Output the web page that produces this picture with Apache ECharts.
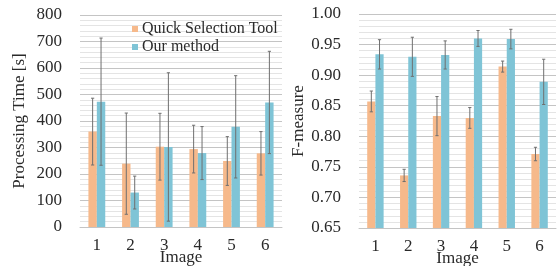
<!DOCTYPE html>
<html>
<head>
<meta charset="utf-8">
<script src="https://cdn.jsdelivr.net/npm/echarts@6/dist/echarts.min.js"></script>
<style>html,body{margin:0;padding:0;background:#fff}#c{width:558px;height:266px}</style>
</head>
<body>
<div id="c"></div>
<script>
var categories = ['1', '2', '3', '4', '5', '6'];
var seriesNames = ['Quick Selection Tool', 'Our method'];
// Processing time [s]
var qstTime = [360, 239, 303, 294, 249, 278];
var qstTimeErr = [126, 191, 126, 90, 92, 82];
var ourTime = [473, 130, 302, 279, 378, 470];
var ourTimeErr = [240, 62, 280, 100, 193, 193];
// F-measure
var qstF = [0.857, 0.736, 0.833, 0.830, 0.914, 0.771];
var qstFErr = [0.017, 0.010, 0.032, 0.017, 0.009, 0.011];
var ourF = [0.934, 0.930, 0.933, 0.960, 0.959, 0.889];
var ourFErr = [0.024, 0.032, 0.023, 0.013, 0.016, 0.037];

var orange = '#F6B98B';
var blue = '#7FC4D6';
var font = 'Liberation Serif';
var textColor = '#2a2a2a';

function errData(mean, err) {
  return mean.map(function (m, i) { return [i, m - err[i], m + err[i]]; });
}
function errSeries(name, data, xi, yi, side) {
  return {
    type: 'custom', name: name, xAxisIndex: xi, yAxisIndex: yi, z: 5,
    data: data,
    renderItem: function (params, api) {
      var band = api.size([1, 0])[0];
      var off = side * band * 0.125;
      var lo = api.coord([api.value(0), api.value(1)]);
      var hi = api.coord([api.value(0), api.value(2)]);
      var x = lo[0] + off;
      var cw = 1.6;
      var st = { stroke: '#6f6f6f', lineWidth: 1 };
      return {
        type: 'group',
        children: [
          { type: 'line', shape: { x1: x, y1: lo[1], x2: x, y2: hi[1] }, style: st },
          { type: 'line', shape: { x1: x - cw, y1: lo[1], x2: x + cw, y2: lo[1] }, style: st },
          { type: 'line', shape: { x1: x - cw, y1: hi[1], x2: x + cw, y2: hi[1] }, style: st }
        ]
      };
    },
    silent: true
  };
}
function xAxis(gi) {
  return {
    type: 'category', gridIndex: gi, data: categories,
    axisLine: { show: true, lineStyle: { color: '#c4c4c4' } },
    axisTick: { show: false },
    axisLabel: { fontFamily: font, fontSize: 17, color: textColor, margin: 10 },
    name: 'Image', nameLocation: 'middle', nameGap: 22, nameMoveOverlap: false,
    nameTextStyle: { fontFamily: font, fontSize: 17, color: textColor }
  };
}
function yAxis(gi, min, max, interval, name, fmt) {
  return {
    type: 'value', gridIndex: gi, min: min, max: max, interval: interval,
    axisLine: { show: false }, axisTick: { show: false },
    axisLabel: { fontFamily: font, fontSize: 17, color: textColor, margin: 18, formatter: fmt },
    splitLine: { show: true, lineStyle: { color: '#c4c4c4', width: 1 } },
    minorTick: { show: false, splitNumber: 5 },
    minorSplitLine: { show: true, lineStyle: { color: '#e4e4e4', width: 1 } },
    name: name, nameLocation: 'middle', nameGap: 52, nameMoveOverlap: false,
    nameTextStyle: { fontFamily: font, fontSize: 17, color: textColor }
  };
}
var chart = echarts.init(document.getElementById('c'), null, { renderer: 'canvas' });
chart.setOption({
  backgroundColor: '#ffffff',
  animation: false,
  grid: [
    { left: 80, right: 276, top: 15, bottom: 39, containLabel: false, outerBoundsMode: 'none' },
    { left: 359, right: 2, top: 14, bottom: 38, containLabel: false, outerBoundsMode: 'none' }
  ],
  legend: {
    data: seriesNames, orient: 'vertical', left: 127, top: 16,
    itemWidth: 6, itemHeight: 6, itemGap: 2, icon: 'rect',
    textStyle: { fontFamily: font, fontSize: 16, color: textColor, padding: [0, 0, 0, -1] }
  },
  xAxis: [xAxis(0), xAxis(1)],
  yAxis: [
    yAxis(0, 0, 800, 100, 'Processing Time [s]', function (v) { return String(v); }),
    yAxis(1, 0.65, 1.0, 0.05, 'F-measure', function (v) { return v.toFixed(2); })
  ],
  series: [
    { type: 'bar', name: seriesNames[0], xAxisIndex: 0, yAxisIndex: 0, data: qstTime,
      itemStyle: { color: orange }, barGap: '0%', barCategoryGap: '50%' },
    { type: 'bar', name: seriesNames[1], xAxisIndex: 0, yAxisIndex: 0, data: ourTime,
      itemStyle: { color: blue }, barGap: '0%', barCategoryGap: '50%' },
    { type: 'bar', name: seriesNames[0], xAxisIndex: 1, yAxisIndex: 1, data: qstF,
      itemStyle: { color: orange }, barGap: '0%', barCategoryGap: '50%' },
    { type: 'bar', name: seriesNames[1], xAxisIndex: 1, yAxisIndex: 1, data: ourF,
      itemStyle: { color: blue }, barGap: '0%', barCategoryGap: '50%' },
    errSeries('errQT', errData(qstTime, qstTimeErr), 0, 0, -1),
    errSeries('errOT', errData(ourTime, ourTimeErr), 0, 0, 1),
    errSeries('errQF', errData(qstF, qstFErr), 1, 1, -1),
    errSeries('errOF', errData(ourF, ourFErr), 1, 1, 1)
  ]
});
</script>
</body>
</html>
